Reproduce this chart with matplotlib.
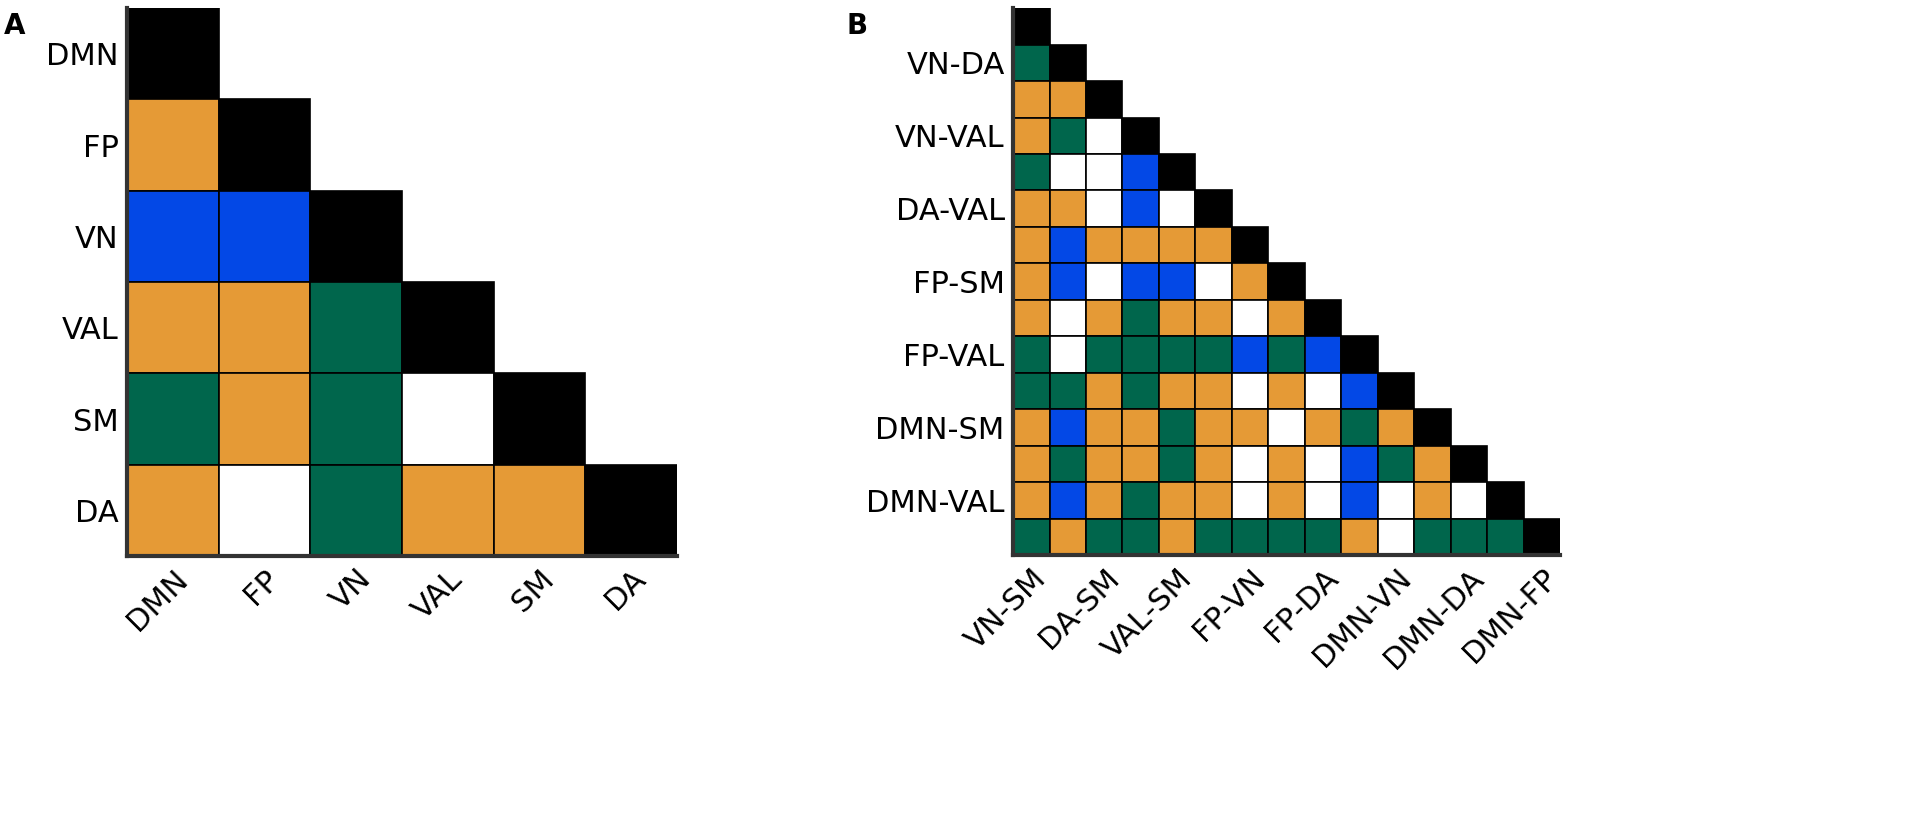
import numpy as np
import matplotlib.pyplot as plt

# networks for panel A, network pairs for panel B
networks = ["DMN", "FP", "VN", "VAL", "SM", "DA"]
pairs = ["VN-SM", "VN-DA", "DA-SM", "VN-VAL", "VAL-SM", "DA-VAL", "FP-VN",
         "FP-SM", "FP-DA", "FP-VAL", "DMN-VN", "DMN-SM", "DMN-DA", "DMN-VAL",
         "DMN-FP"]

# cell categories, lower triangle row by row
# W = none, O = orange, G = green, B = blue, K = diagonal
cells_a = [
    "K",
    "OK",
    "BBK",
    "OOGK",
    "GOGWK",
    "OWGOOK",
]

cells_b = [
    "K",
    "GK",
    "OOK",
    "OGWK",
    "GWWBK",
    "OOWBWK",
    "OBOOOOK",
    "OBWBBWOK",
    "OWOGOOWOK",
    "GWGGGGBGBK",
    "GGOGOOWOWBK",
    "OBOOGOOWOGOK",
    "OGOOGOWOWBGOK",
    "OBOGOOWOWBWOWK",
    "GOGGOGGGGOWGGGK",
]

colours = {"W": "#FFFFFF", "O": "#E59A36", "G": "#00664C",
           "B": "#0348E6", "K": "#000000"}

fig = plt.figure(figsize=(19.23, 8.14), dpi=100)
ax_a = fig.add_axes([0.066, 0.317, 0.286, 0.673])
ax_b = fig.add_axes([0.5268, 0.318, 0.2845, 0.672])


def draw(ax, rows, xlabels, ylabels, xticks, yticks):
    n = len(rows)
    for i, r in enumerate(rows):
        cols = np.arange(len(r))
        ax.bar(cols + 0.5, 1, bottom=i, width=1,
               color=[colours[c] for c in r], edgecolor="black",
               linewidth=1.2)
    ax.set_xlim(0, n)
    ax.set_ylim(n, 0)
    ax.set_xticks(np.array(xticks) + 0.5)
    ax.set_xticklabels(xlabels, rotation=45, ha="right",
                       rotation_mode="anchor", fontsize=22)
    ax.set_yticks(np.array(yticks) + 0.5)
    ax.set_yticklabels(ylabels, fontsize=22)
    ax.tick_params(length=0, pad=6)
    for s in ["top", "right"]:
        ax.spines[s].set_visible(False)
    for s in ["left", "bottom"]:
        ax.spines[s].set_color("#333333")
        ax.spines[s].set_linewidth(3)
        ax.spines[s].set_zorder(5)


draw(ax_a, cells_a, networks, networks, range(6), range(6))
draw(ax_b, cells_b, pairs[0::2], pairs[1::2], range(0, 15, 2), range(1, 15, 2))

fig.text(0.002, 0.985, "A", fontsize=20, fontweight="bold", va="top")
fig.text(0.44, 0.985, "B", fontsize=20, fontweight="bold", va="top")

fig.savefig("out.png", dpi=100)
